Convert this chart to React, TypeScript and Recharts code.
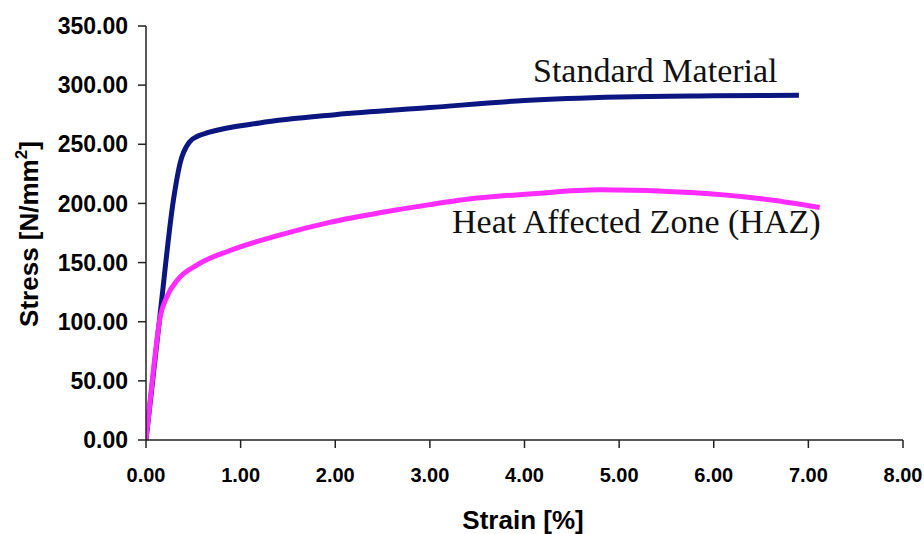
import { LineChart, Line, XAxis, YAxis, Customized } from 'recharts'

const standardStrain = [0, 0.15, 0.29, 0.36, 0.46, 0.55, 0.66, 1.2, 2.0, 3.0, 4.0, 5.0, 6.0, 6.9]
const standardStress = [0, 107, 203, 234, 252, 257, 260, 268, 275, 281, 287, 290, 291, 291.5]

const hazStrain = [0, 0.07, 0.15, 0.22, 0.33, 0.54, 0.88, 1.4, 1.94, 2.5, 3.0, 3.5, 4.05, 4.8, 5.8, 6.5, 7.12]
const hazStress = [0, 53, 104, 121, 135, 148, 160, 173, 184, 192.5, 199, 204.5, 208, 211.5, 209, 204, 196.5]

const strainTicks = [0, 1, 2, 3, 4, 5, 6, 7, 8]
const stressTicks = [0, 50, 100, 150, 200, 250, 300, 350]

const standardData = standardStrain.map((strain, i) => ({ strain, stress: standardStress[i] }))
const hazData = hazStrain.map((strain, i) => ({ strain, stress: hazStress[i] }))

const sans = '"Liberation Sans", Arial, sans-serif'
const serif = '"Liberation Serif", "Times New Roman", serif'

const xTickStyle = { fontFamily: sans, fontWeight: 700, fontSize: 20, fill: '#000' }
const yTickStyle = { fontFamily: sans, fontWeight: 700, fontSize: 23, fill: '#000' }

const Annotations = () => (
  <g>
    <text x={533} y={82} fontFamily={serif} fontSize={34} fill="#111">
      Standard Material
    </text>
    <text x={452} y={233} fontFamily={serif} fontSize={34} fill="#111">
      Heat Affected Zone (HAZ)
    </text>
    <text
      x={523}
      y={529}
      textAnchor="middle"
      fontFamily={sans}
      fontWeight={700}
      fontSize={26}
      fill="#000"
    >
      Strain [%]
    </text>
    <text
      x={0}
      y={0}
      transform="translate(38 234) rotate(-90)"
      textAnchor="middle"
      fontFamily={sans}
      fontWeight={700}
      fontSize={26}
      fill="#000"
    >
      Stress [N/mm
      <tspan fontSize={17} dy={-11}>2</tspan>
      <tspan dy={11}>]</tspan>
    </text>
  </g>
)

const App = () => {
  return (
    <div style={{ position: 'absolute', left: 0, top: 0, background: '#fff' }}>
      <LineChart width={924} height={534} margin={{ top: 26, right: 21, bottom: 34, left: 0 }}>
        <XAxis
          dataKey="strain"
          type="number"
          domain={[0, 8]}
          ticks={strainTicks}
          tickFormatter={(v: number) => v.toFixed(2)}
          stroke="#222"
          strokeWidth={1.5}
          tickSize={8}
          tickMargin={20}
          height={60}
          tick={xTickStyle}
          allowDataOverflow
        />
        <YAxis
          type="number"
          domain={[0, 350]}
          ticks={stressTicks}
          tickFormatter={(v: number) => v.toFixed(2)}
          stroke="#222"
          strokeWidth={1.5}
          tickSize={8}
          tickMargin={10}
          width={146}
          tick={yTickStyle}
        />
        <Line
          data={standardData}
          dataKey="stress"
          type="monotone"
          stroke="#0c1680"
          strokeWidth={5}
          dot={false}
          isAnimationActive={false}
        />
        <Line
          data={hazData}
          dataKey="stress"
          type="monotone"
          stroke="#ff2cff"
          strokeWidth={5}
          dot={false}
          isAnimationActive={false}
        />
        <Customized component={<Annotations />} />
      </LineChart>
    </div>
  )
}

export default App
